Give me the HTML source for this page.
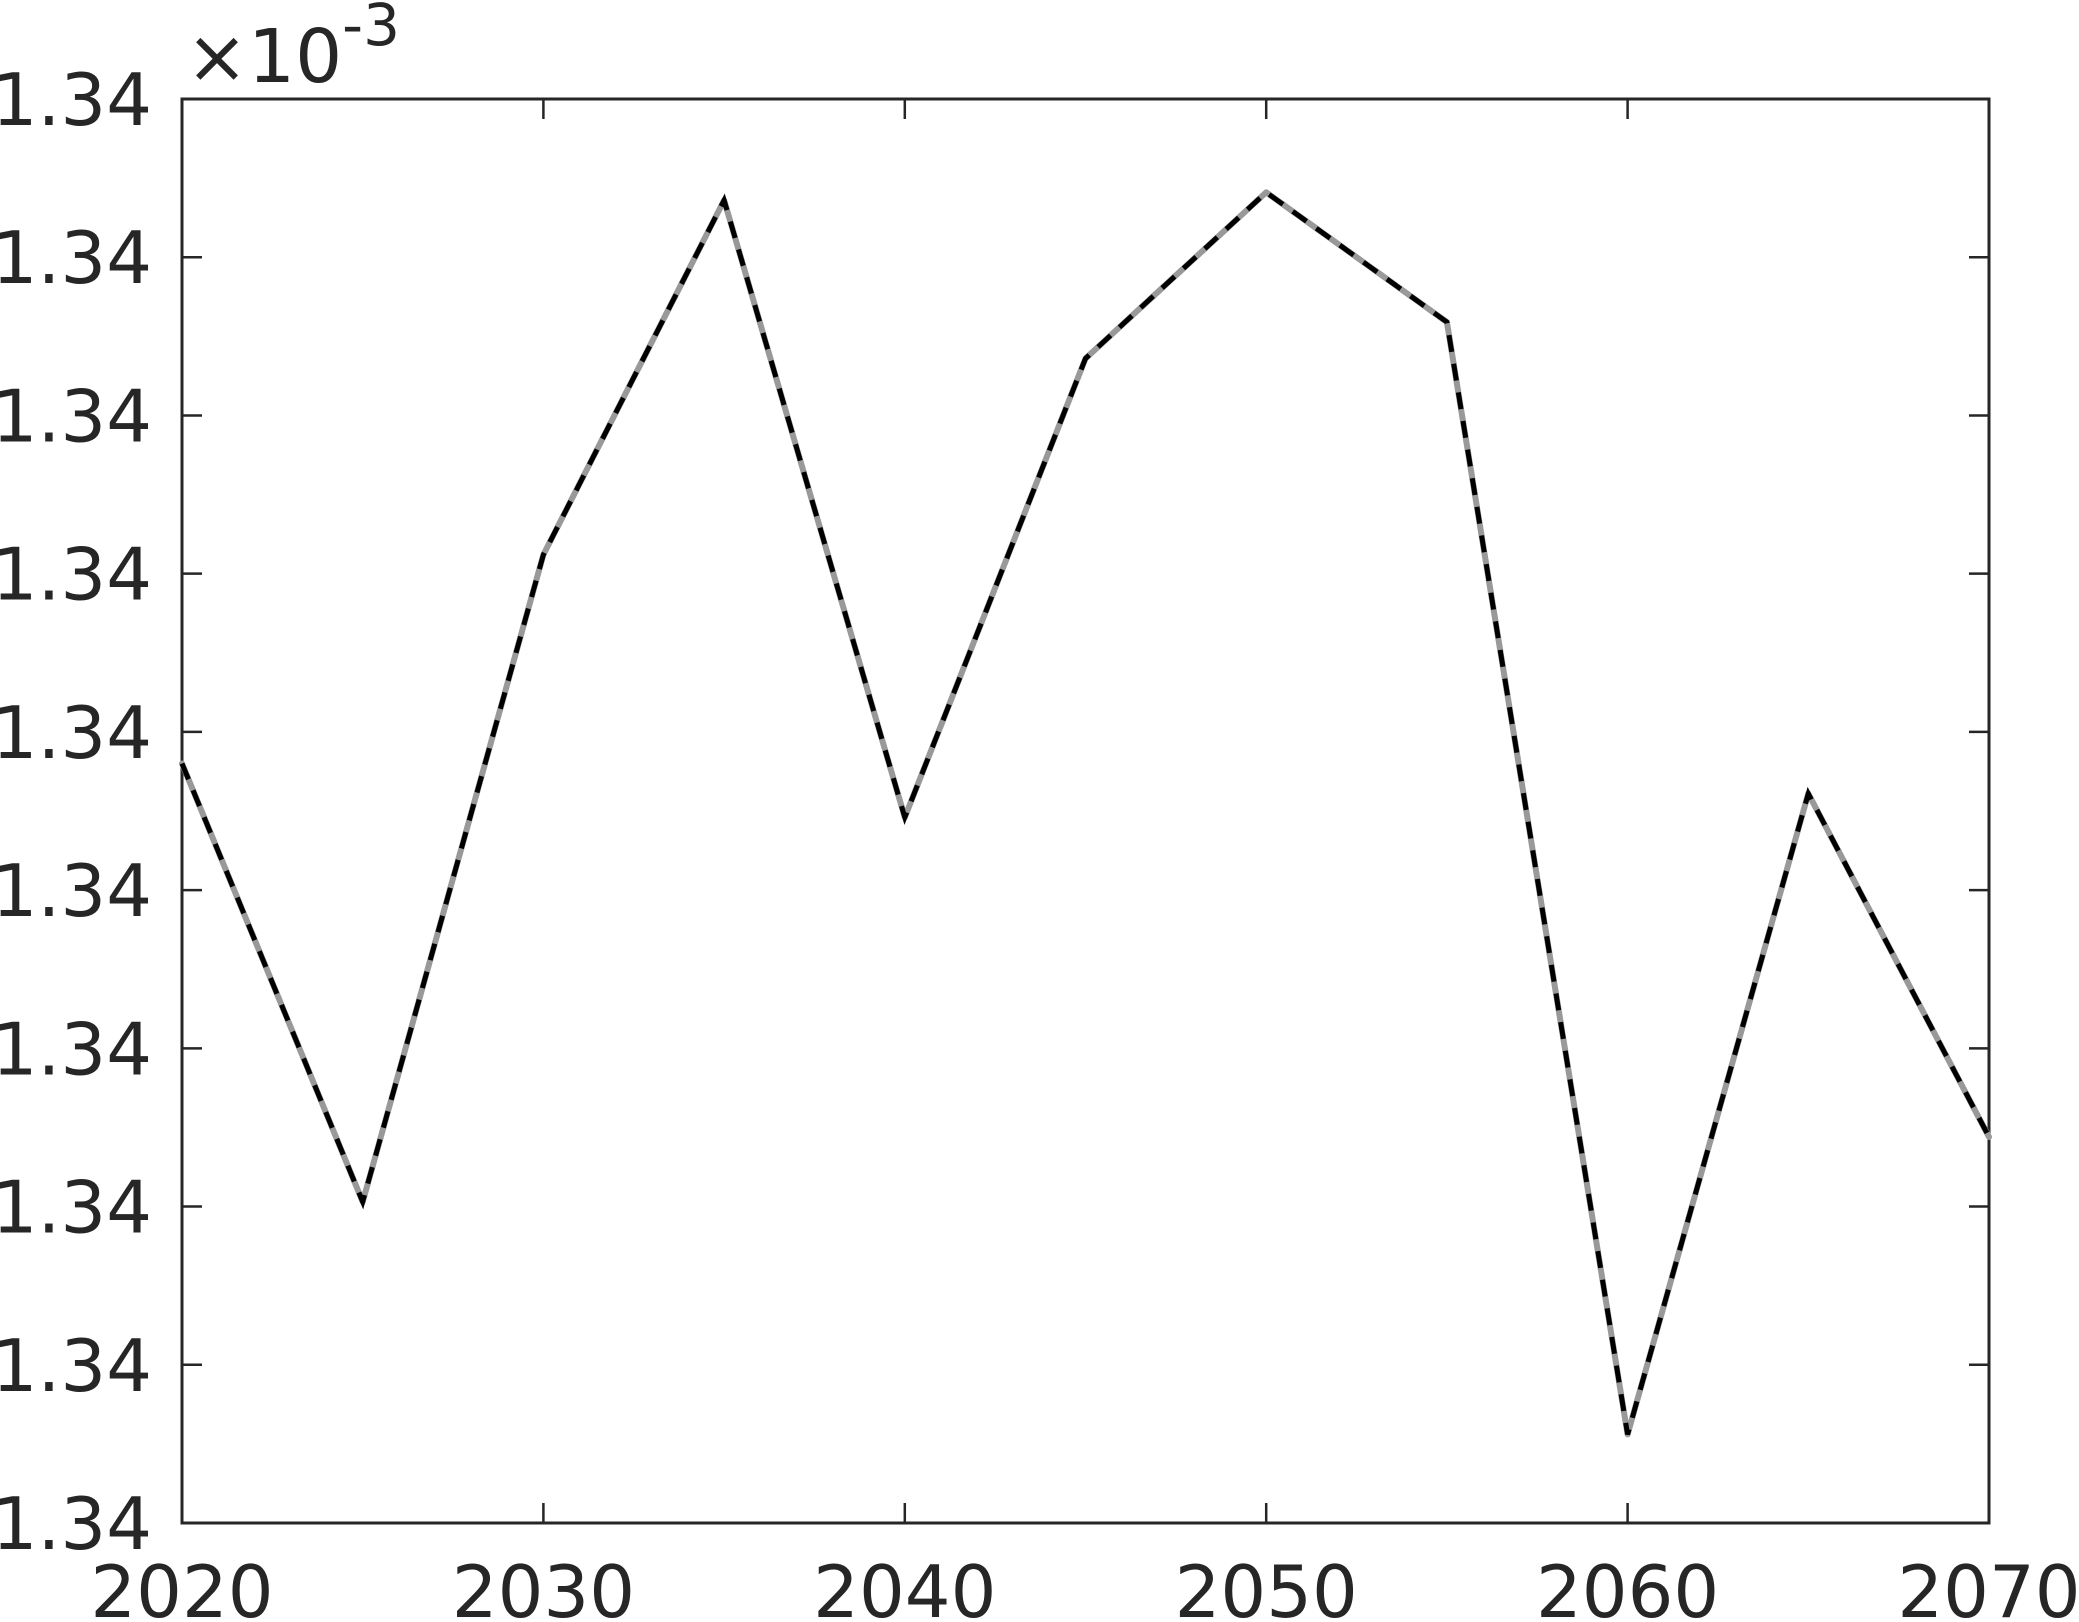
<!DOCTYPE html>
<html><head><meta charset="utf-8"><style>
html,body{margin:0;padding:0;background:#fff;}
svg{display:block;}
text{font-family:"DejaVu Sans","Liberation Sans",sans-serif;fill:#262626;}
</style></head><body>
<svg id="chart" width="2079" height="1622" viewBox="0 0 2079 1622" xmlns="http://www.w3.org/2000/svg"></svg>
<script>
const years = [2020,2025,2030,2035,2040,2045,2050,2055,2060,2065,2070];
const values = [4.80,2.03,6.12,8.36,4.46,7.36,8.41,7.59,0.56,4.61,2.44];
const xTicks = [2020,2030,2040,2050,2060,2070];
const yTicks = [0,1,2,3,4,5,6,7,8,9];
const yTickLabels = ["1.34","1.34","1.34","1.34","1.34","1.34","1.34","1.34","1.34","1.34"];

const L=182,R=1989,T=99,B=1523;
const xs=v=>L+(v-2020)/(2070-2020)*(R-L);
const ys=v=>B-(v-0)/(9-0)*(B-T);
const NS="http://www.w3.org/2000/svg";
const svg=document.getElementById('chart');
function mk(tag,attrs,parent){const e=document.createElementNS(NS,tag);for(const k in attrs)e.setAttribute(k,attrs[k]);(parent||svg).appendChild(e);return e;}

const axes=mk('g',{});


const box=mk('rect',{x:L,y:T,width:R-L,height:B-T,fill:'none',stroke:'#262626','stroke-width':3},axes);



xTicks.forEach(t=>{
  const x=xs(t);
  mk('line',{x1:x,y1:B,x2:x,y2:B-20,stroke:'#262626','stroke-width':2.5},axes);
  mk('line',{x1:x,y1:T,x2:x,y2:T+20,stroke:'#262626','stroke-width':2.5},axes);
  const tx=mk('text',{x:x,y:1617,'font-size':72,'text-anchor':'middle'},axes);
  tx.textContent=t;
  
  
});
yTicks.forEach((t,i)=>{
  const y=ys(t);
  mk('line',{x1:L,y1:y,x2:L+20,y2:y,stroke:'#262626','stroke-width':2.5},axes);
  mk('line',{x1:R,y1:y,x2:R-20,y2:y,stroke:'#262626','stroke-width':2.5},axes);
  const tx=mk('text',{x:152,y:y+26,'font-size':72,'text-anchor':'end'},axes);
  tx.textContent=yTickLabels[i];
  
  
});
const mult=mk('text',{x:186,y:82,'font-size':74},axes);
mult.innerHTML='×10<tspan dy="-37" font-size="58">-3</tspan>';



const pts=years.map((yr,i)=>xs(yr)+','+ys(values[i])).join(' ');
const g=mk('polyline',{points:pts,fill:'none',stroke:'#999999','stroke-width':6,'stroke-linejoin':'round','stroke-linecap':'round'});


const d=mk('polyline',{points:pts,fill:'none',stroke:'#000','stroke-width':5,'stroke-dasharray':'17 12'});


</script>
</body></html>
